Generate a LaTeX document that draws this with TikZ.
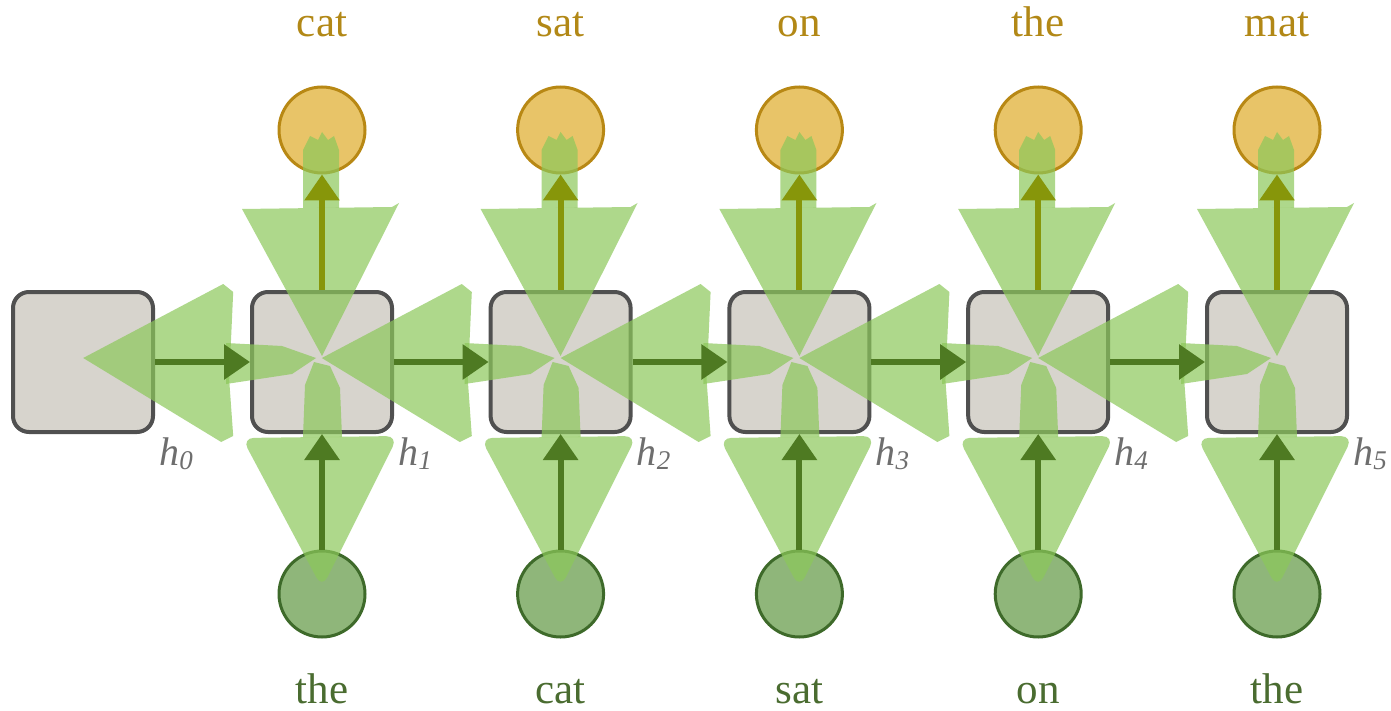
\documentclass[tikz,border=0pt]{standalone}
\usepackage{fontspec}
\setmainfont{Liberation Serif}
\usetikzlibrary{arrows.meta}
\definecolor{boxfill}{RGB}{215,212,205}
\definecolor{boxline}{RGB}{80,80,80}
\definecolor{outfill}{RGB}{232,196,104}
\definecolor{outline}{RGB}{184,136,20}
\definecolor{infill}{RGB}{143,182,122}
\definecolor{inline}{RGB}{62,106,42}
\definecolor{brushgreen}{RGB}{140,200,90}
\definecolor{arrowgreen}{RGB}{78,122,34}
\definecolor{arrowolive}{RGB}{135,150,10}
\definecolor{topword}{RGB}{178,136,22}
\definecolor{botword}{RGB}{74,108,48}
\definecolor{hgray}{RGB}{110,110,110}
\begin{document}
\begin{tikzpicture}[x=1pt,y=-1pt,
  cell/.style={draw=boxline,line width=4pt,fill=boxfill,rounded corners=16pt,minimum size=140pt,inner sep=0pt},
  outc/.style={circle,draw=outline,fill=outfill,line width=3pt,minimum size=86pt,inner sep=0pt},
  inc/.style={circle,draw=inline,fill=infill,line width=3pt,minimum size=86pt,inner sep=0pt},
  brush/.style={fill=brushgreen,fill opacity=0.7},
  harrow/.style={draw=arrowgreen,line width=6pt,-{Triangle[length=26pt,width=34pt]}},
  oarrow/.style={draw=arrowolive,line width=6pt,-{Triangle[length=26pt,width=34pt]}},
  topw/.style={text=topword,font=\fontsize{43}{47}\selectfont,anchor=base},
  botw/.style={text=botword,font=\fontsize{43}{47}\selectfont,anchor=base},
  hlab/.style={text=hgray,font=\fontsize{40}{44}\selectfont\itshape,anchor=base}
]
\useasboundingbox (0,0) rectangle (1391,711);
\fill[white] (0,0) rectangle (1391,711);
% cells
\foreach \i/\cx in {0/83,1/322,2/560.6,3/799.4,4/1038.2,5/1277}{
  \node[cell] (b\i) at (\cx,362) {};
  \node[hlab] (h\i) at (\cx+93,465) {h\raisebox{-0.25ex}{\fontsize{27}{29}\selectfont\itshape\i}};
}
% circles and words
\foreach \i/\cx/\tw/\bw in {1/322/cat/the,2/560.6/sat/cat,3/799.4/on/sat,4/1038.2/the/on,5/1277/mat/the}{
  \node[outc] (o\i) at (\cx,130) {};
  \node[inc] (x\i) at (\cx,594) {};
  \node[topw] (t\i) at (\cx,37) {\tw};
  \node[botw] (w\i) at (\cx,703) {\bw};
}
% brush overlays
\foreach \cx in {322,560.6,799.4,1038.2,1277}{
  \pgfmathsetmacro{\px}{\cx-238.8}
  % horizontal triangle (apex at previous cell centre)
  \fill[brush] (\px,358) -- (\px+140,284) -- (\px+150,292) -- (\px+146,380) -- (\px+150,436) -- (\px+138,442) -- cycle;
  % horizontal stroke into cell
  \fill[brush] (\cx-96,343) -- (\cx-40,346) -- (\cx-6,358) -- (\cx-30,374) -- (\cx-96,384) -- cycle;
  % top triangle
  \fill[brush] (\cx,356) -- (\cx-80,209) -- (\cx+70,207) -- (\cx+77,203) -- cycle;
  \fill[brush] (\cx-19,208) -- (\cx-19,150) -- (\cx-12,136) -- (\cx-4,140) -- (\cx,132) -- (\cx+6,140) -- (\cx+12,136) -- (\cx+17,150) -- (\cx+17,208) -- cycle;
  % bottom triangle
  \fill[brush,rounded corners=12pt] (\cx-80,438) -- (\cx+76,436) -- (\cx,588) -- cycle;
  \fill[brush] (\cx-19,437) -- (\cx-17,385) -- (\cx-8,362) -- (\cx+8,366) -- (\cx+18,388) -- (\cx+20,437) -- cycle;
}
% arrows
\foreach \i/\j in {1/0,2/1,3/2,4/3,5/4}{
  \draw[harrow] (b\j.east) -- (b\i.west);
}
\foreach \i in {1,...,5}{
  \draw[harrow] (x\i.north) -- (b\i.south);
  \draw[oarrow] (b\i.north) -- (o\i.south);
}
\end{tikzpicture}
\end{document}
